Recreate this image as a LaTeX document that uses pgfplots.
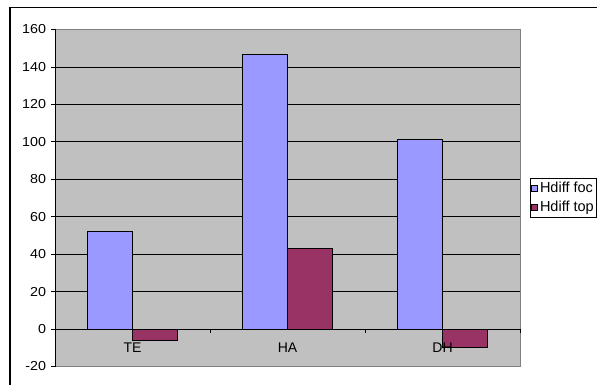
\documentclass[border=0pt]{standalone}
\usepackage{fontspec}
\setmainfont{Liberation Sans}
\usepackage{pgfplots}
\pgfplotsset{compat=1.18}

\definecolor{plotgray}{HTML}{C0C0C0}
\definecolor{framegray}{HTML}{808080}
\definecolor{focblue}{HTML}{9999FF}
\definecolor{topred}{HTML}{993366}

\newcommand{\chartfont}[1]{\fontsize{#1}{#1}\selectfont}

\begin{document}
\begin{tikzpicture}[x=1bp,y=1bp]
\useasboundingbox (0,0) rectangle (597,384);
% chart frame (runs past the page on the right and bottom)
\draw[line width=1.1bp] (10,-50) -- (10,376.5) -- (700,376.5);
\begin{axis}[
  scale only axis,
  width=465bp, height=337bp,
  at={(55bp,17.5bp)}, anchor=south west,
  xmin=-0.5, xmax=2.5,
  ymin=-20, ymax=160,
  axis x line=middle,
  axis y line=left,
  axis line style={-, black, line width=0.8bp},
  axis background/.style={fill=plotgray, draw=framegray, line width=1bp},
  ybar=0pt,
  bar width=45.3bp,
  xtick=\empty,
  extra x ticks={-0.5,0.5,1.5,2.5},
  extra x tick labels={},
  extra x tick style={tick style={draw=black, line width=0.8bp}, major tick length=4bp, tick align=outside},
  ytick={-20,0,...,160},
  y tick style={black, line width=0.8bp},
  major tick length=4bp,
  tick align=outside,
  ytick pos=left,
  extra y ticks={20,40,...,140},
  extra y tick labels={},
  extra y tick style={ymajorgrids=true, major tick length=0bp,
     major grid style={black, line width=0.8bp}},
  /pgf/number format/assume math mode=true,
  yticklabel style={font=\chartfont{13bp}, xscale=1.1, anchor=east, xshift=-1bp},
  legend style={at={(1.0215,0.5593)}, anchor=north west, draw=black,
     fill=white, line width=0.8bp, font=\chartfont{14.5bp},
     inner xsep=1bp, inner ysep=2bp, row sep=3bp},
  legend cell align=left,
  legend image code/.code={\draw[#1, line width=0.6bp] (0bp,-3bp) rectangle (6bp,3bp);},
  % category names sit under the zero line, drawn over the bars
  after end axis/.code={
    \foreach \c/\n in {0/TE,1/HA,2/DH}
      \node[font=\chartfont{14bp}, anchor=center, inner sep=0pt]
        at ([yshift=-19bp]axis cs:\c,0) {\n};
  },
]
\addplot[fill=focblue, draw=black, line width=0.8bp] coordinates {(0,52) (1,146.5) (2,101.5)};
\addplot[fill=topred, draw=black, line width=0.8bp] coordinates {(0,-6.3) (1,43) (2,-9.8)};
\legend{Hdiff foc, Hdiff top}
\end{axis}
\end{tikzpicture}
\end{document}
